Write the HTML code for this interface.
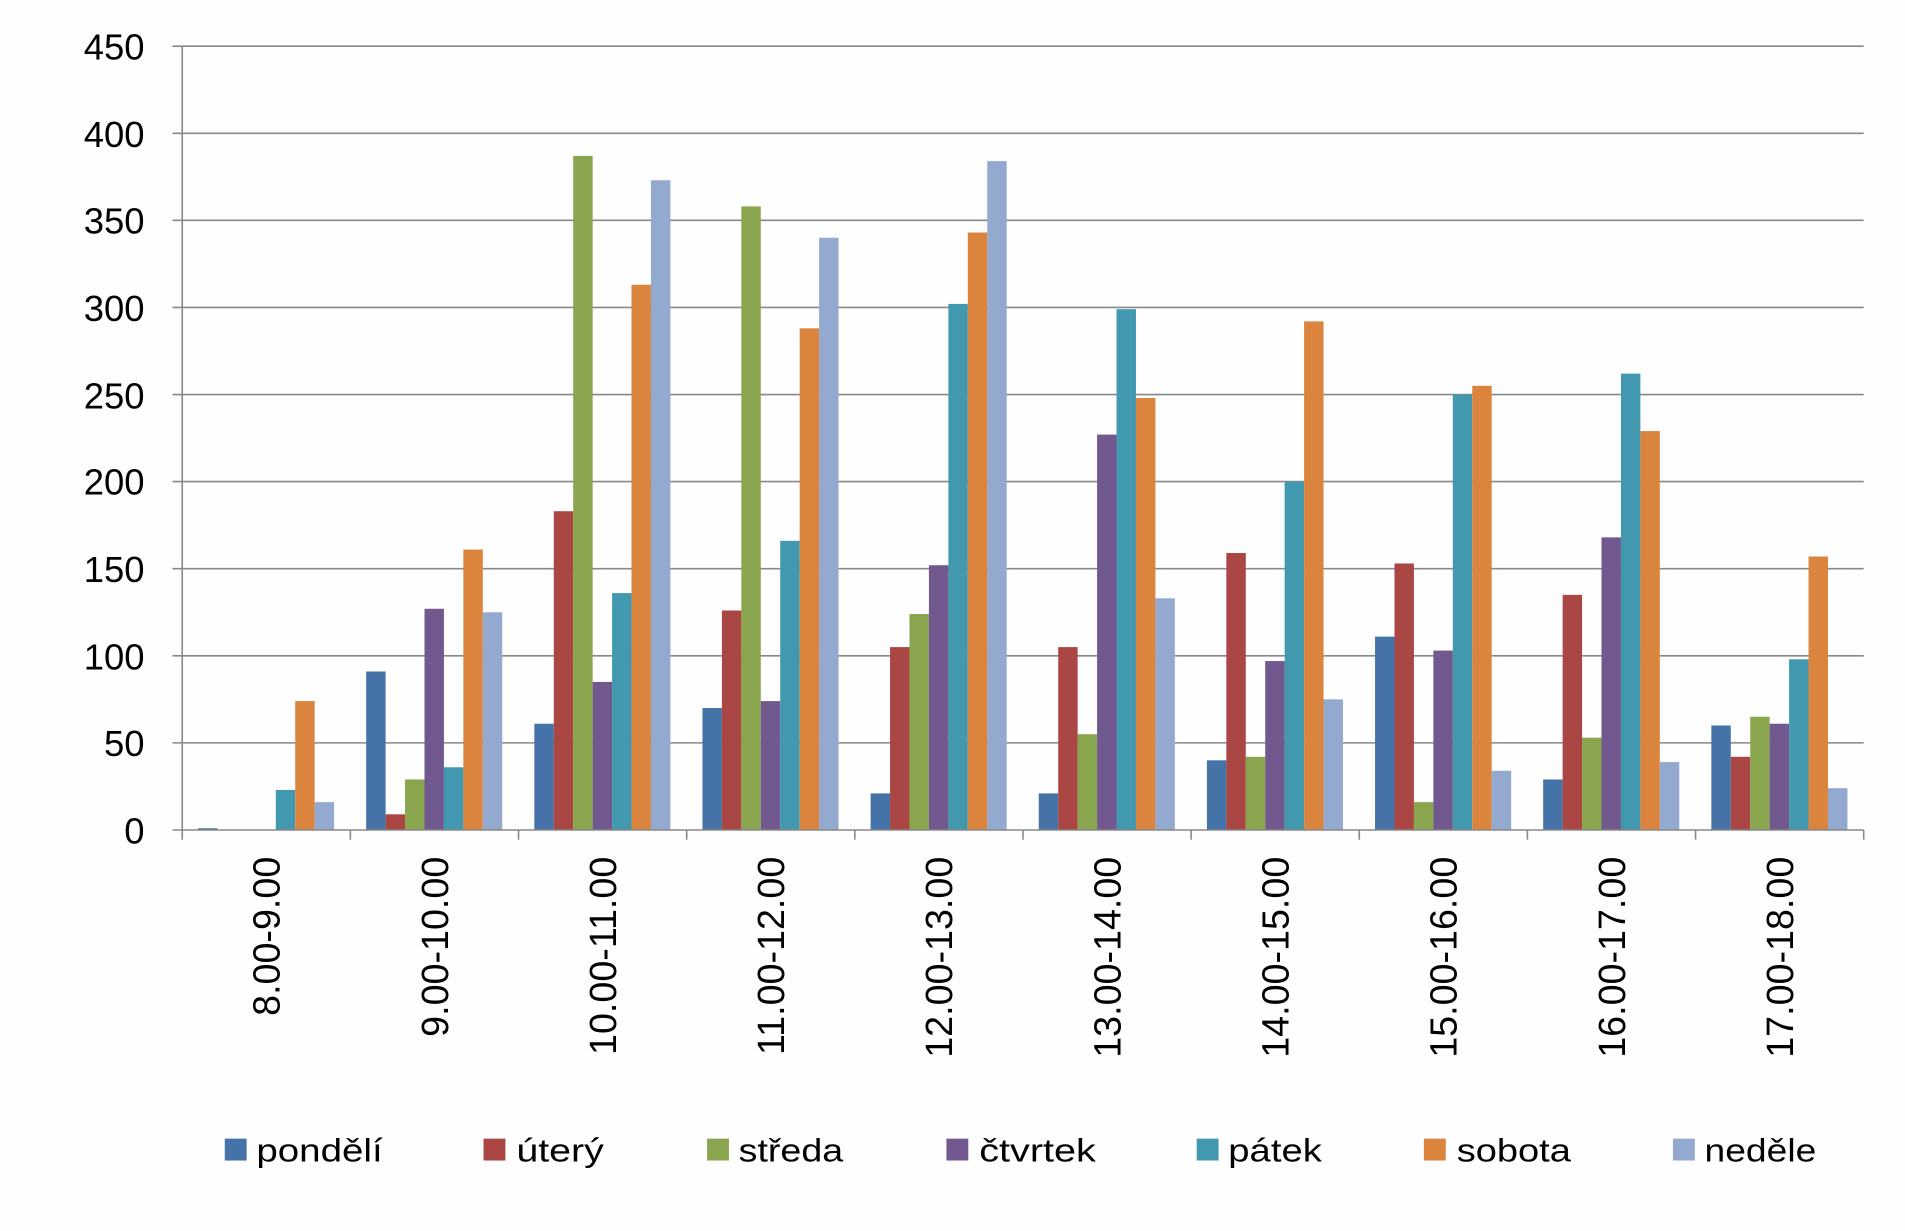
<!DOCTYPE html>
<html><head><meta charset="utf-8"><style>html,body{margin:0;padding:0;background:#fff}svg{display:block}</style></head>
<body>
<svg width="1905" height="1231" viewBox="0 0 1568 1013" preserveAspectRatio="none" xmlns="http://www.w3.org/2000/svg" font-family="Liberation Sans, sans-serif">
<rect width="1568" height="1013" fill="#fefefe"/>
<g stroke="#888" stroke-width="1.3">
<line x1="142" y1="38" x2="1534" y2="38"/>
<line x1="142" y1="109.7" x2="1534" y2="109.7"/>
<line x1="142" y1="181.3" x2="1534" y2="181.3"/>
<line x1="142" y1="253" x2="1534" y2="253"/>
<line x1="142" y1="324.7" x2="1534" y2="324.7"/>
<line x1="142" y1="396.3" x2="1534" y2="396.3"/>
<line x1="142" y1="468" x2="1534" y2="468"/>
<line x1="142" y1="539.7" x2="1534" y2="539.7"/>
<line x1="142" y1="611.3" x2="1534" y2="611.3"/>
<line x1="150" y1="38" x2="150" y2="683"/>
</g>
<g font-size="30" text-anchor="end" fill="#000">
<text x="119" y="49">450</text><text x="119" y="121">400</text><text x="119" y="192">350</text>
<text x="119" y="264">300</text><text x="119" y="336">250</text><text x="119" y="407">200</text>
<text x="119" y="479">150</text><text x="119" y="551">100</text><text x="119" y="622">50</text>
<text x="119" y="694">0</text>
</g>
<g id="bars"></g>
<g stroke="#888" stroke-width="1.3" id="axis">
<line x1="142" y1="683" x2="1534" y2="683"/>
</g>
<g id="cats" font-size="31" fill="#000"></g>
<g font-size="27" fill="#000">
<rect x="185" y="937" width="18" height="18" fill="#4572A7"/><text x="211" y="956" textLength="104" lengthAdjust="spacingAndGlyphs">pondělí</text>
<rect x="398" y="937" width="18" height="18" fill="#AA4643"/><text x="425" y="956" textLength="72" lengthAdjust="spacingAndGlyphs">úterý</text>
<rect x="582" y="937" width="18" height="18" fill="#89A54E"/><text x="608" y="956" textLength="86" lengthAdjust="spacingAndGlyphs">středa</text>
<rect x="779" y="937" width="18" height="18" fill="#71588F"/><text x="806" y="956" textLength="96" lengthAdjust="spacingAndGlyphs">čtvrtek</text>
<rect x="985" y="937" width="18" height="18" fill="#4198AF"/><text x="1011" y="956" textLength="77" lengthAdjust="spacingAndGlyphs">pátek</text>
<rect x="1172" y="937" width="18" height="18" fill="#DB843D"/><text x="1199" y="956" textLength="94" lengthAdjust="spacingAndGlyphs">sobota</text>
<rect x="1377" y="937" width="18" height="18" fill="#93A9CF"/><text x="1403" y="956" textLength="92" lengthAdjust="spacingAndGlyphs">neděle</text>
</g>
</svg>
<script>
var d=[[1,0,0,0,23,74,16],[91,9,29,127,36,161,125],[61,183,387,85,136,313,373],[70,126,358,74,166,288,340],[21,105,124,152,302,343,384],[21,105,55,227,299,248,133],[40,159,42,97,200,292,75],[111,153,16,103,250,255,34],[29,135,53,168,262,229,39],[60,42,65,61,98,157,24]];
var c=["#4572A7","#AA4643","#89A54E","#71588F","#4198AF","#DB843D","#93A9CF"];
var labs=["8.00-9.00","9.00-10.00","10.00-11.00","11.00-12.00","12.00-13.00","13.00-14.00","14.00-15.00","15.00-16.00","16.00-17.00","17.00-18.00"];
var ns="http://www.w3.org/2000/svg",B=document.getElementById("bars"),A=document.getElementById("axis"),C=document.getElementById("cats");
var w=138.4,s=71.67/50;
for(var i=0;i<10;i++){var x0=150+i*w;
for(var j=0;j<7;j++){var h=d[i][j]*s;if(h<=0)continue;var r=document.createElementNS(ns,"rect");
r.setAttribute("x",x0+13+16*j);r.setAttribute("y",683-h);r.setAttribute("width",16);r.setAttribute("height",h);r.setAttribute("fill",c[j]);B.appendChild(r);}
var l=document.createElementNS(ns,"line");
l.setAttribute("x1",x0);l.setAttribute("x2",x0);l.setAttribute("y1",683);l.setAttribute("y2",691);A.appendChild(l);
var cx=x0+w/2+11;var t=document.createElementNS(ns,"text");t.setAttribute("x",cx);t.setAttribute("y",705);
t.setAttribute("text-anchor","end");t.setAttribute("transform","rotate(-90 "+cx+" 705)");t.textContent=labs[i];C.appendChild(t);}
var l2=document.createElementNS(ns,"line");l2.setAttribute("x1",1534);l2.setAttribute("x2",1534);l2.setAttribute("y1",683);l2.setAttribute("y2",691);A.appendChild(l2);
</script>
</body></html>
